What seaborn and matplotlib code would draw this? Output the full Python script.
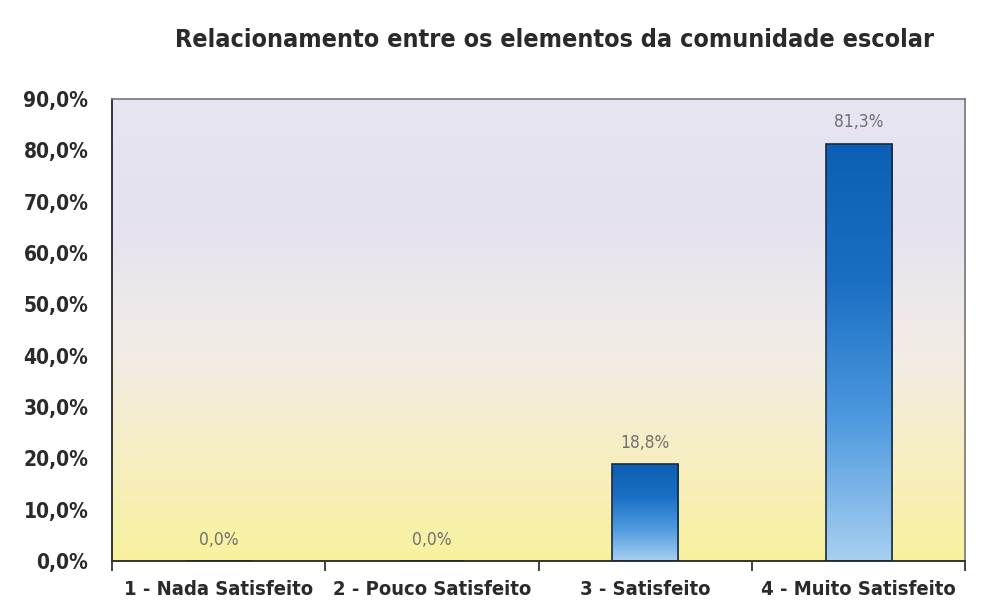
import numpy as np
import pandas as pd
import seaborn as sns
import matplotlib.pyplot as plt
from matplotlib.colors import LinearSegmentedColormap

categories = ["1 - Nada Satisfeito", "2 - Pouco Satisfeito", "3 - Satisfeito", "4 - Muito Satisfeito"]
values = [0.0, 0.0, 18.8, 81.3]
value_labels = ["0,0%", "0,0%", "18,8%", "81,3%"]
y_ticks = [0, 10, 20, 30, 40, 50, 60, 70, 80, 90]
y_tick_labels = ["0,0%", "10,0%", "20,0%", "30,0%", "40,0%", "50,0%", "60,0%", "70,0%", "80,0%", "90,0%"]
title = "Relacionamento entre os elementos da comunidade escolar"

df = pd.DataFrame({"categoria": categories, "valor": values})

sns.set_style("white")
plt.rcParams['font.family'] = ['DejaVu Sans']

fig = plt.figure(figsize=(9.82, 6.03), dpi=100)
ax = fig.add_axes([0.114, 0.0697, 0.869, 0.7663])

sns.barplot(data=df, x="categoria", y="valor", width=0.31, ax=ax,
            color="#1f6fc0", edgecolor="#1a2a40", linewidth=1.2, zorder=3)

n = len(categories)

# background gradient: lavender on top, yellow at the bottom
bg_cmap = LinearSegmentedColormap.from_list(
    "bg", [(0.0, "#f7f29e"), (0.15, "#f8efb6"), (0.45, "#f2ece6"), (0.75, "#e5e2f0"), (1.0, "#e6e5f1")])
grad = np.linspace(0, 1, 256).reshape(-1, 1)
ax.imshow(grad, cmap=bg_cmap, origin="lower", aspect="auto",
          extent=[-0.5, n - 0.5, 0, 90], zorder=0)

# bar gradient: dark blue at top, light blue at the bottom
bar_cmap = LinearSegmentedColormap.from_list("bar", ["#a8d0f0", "#4f9ae0", "#1a6fc4", "#0b5fb5"])
for patch in ax.patches:
    x0, w, h = patch.get_x(), patch.get_width(), patch.get_height()
    if h <= 0:
        continue
    patch.set_facecolor("none")
    img = ax.imshow(grad, cmap=bar_cmap, origin="lower", aspect="auto",
                    extent=[x0, x0 + w, 0, h], zorder=2)
    img.set_clip_path(patch)

ax.set_xlim(-0.5, n - 0.5)
ax.set_ylim(0, 90)

for i, (v, lab) in enumerate(zip(values, value_labels)):
    ax.text(i, v + 2.4, lab, ha="center", va="bottom", fontsize=12.5,
            color="#707070", fontstretch="condensed")

ax.set_yticks(y_ticks)
ax.set_yticklabels(y_tick_labels)
ax.set_xticks(range(n))
ax.set_xticklabels(categories)
ax.set_xlabel("")
ax.set_ylabel("")

for lab in ax.get_yticklabels() + ax.get_xticklabels():
    lab.set_fontsize(14.5)
    lab.set_fontweight("bold")
    lab.set_color("#2a2a2a")
    lab.set_fontstretch("condensed")
for lab in ax.get_yticklabels():
    lab.set_fontsize(15)

# x ticks at category boundaries
ax.set_xticks([i - 0.5 for i in range(n + 1)], minor=True)
ax.tick_params(axis="x", which="major", bottom=False, length=0, pad=14)
ax.tick_params(axis="x", which="minor", bottom=True, length=7, width=1.3,
               color="#333333", direction="out")
ax.tick_params(axis="y", left=False, length=0, pad=17)

for side in ["left", "bottom"]:
    ax.spines[side].set_color("#333333")
    ax.spines[side].set_linewidth(1.4)
for side in ["top", "right"]:
    ax.spines[side].set_color("#777777")
    ax.spines[side].set_linewidth(1.2)

fig.text(0.565, 0.934, title, ha="center", va="center", fontsize=18,
         fontweight="bold", color="#2a2a2a", fontstretch="condensed")

fig.savefig("out.png", dpi=100)
